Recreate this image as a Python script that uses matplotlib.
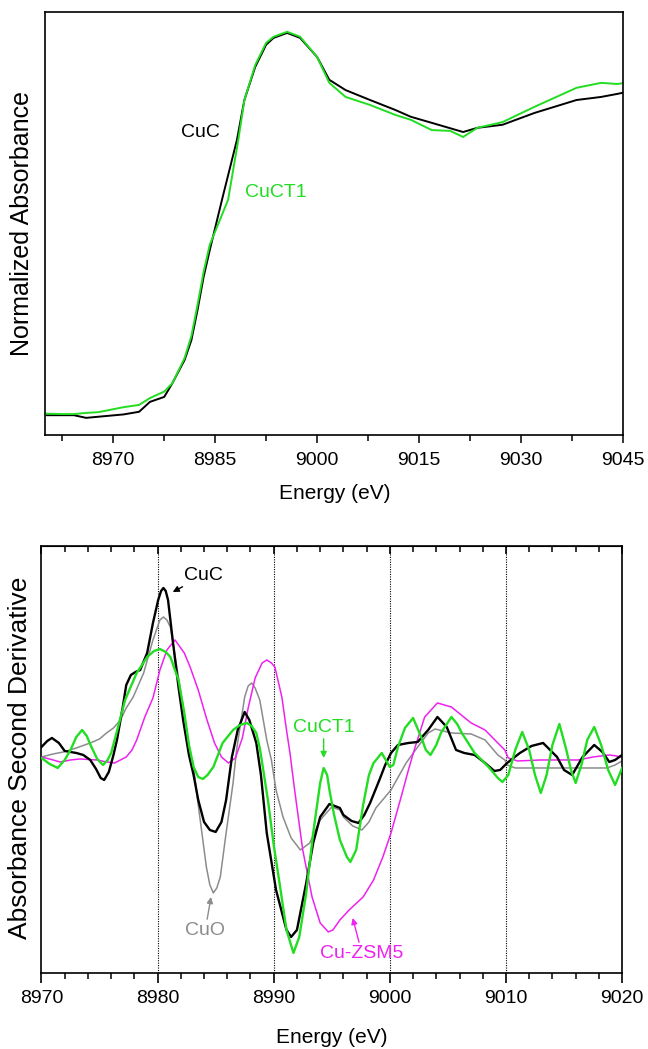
import numpy as np
import matplotlib
matplotlib.use("Agg")
from matplotlib import pyplot as plt
from matplotlib.ticker import MultipleLocator

plt.rcParams['font.family'] = ['Liberation Sans', 'DejaVu Sans']

GREEN = '#22dd22'
MAGENTA = '#ee22ee'
GRAY = '#8c8c8c'

# ---- top panel: normalized XANES ----
xanes_e_cuc = [8960.2, 8962.5, 8964.2, 8966.0, 8967.8, 8971.5, 8973.8, 8975.4, 8977.5, 8978.7,
               8980.5, 8981.5, 8982.4, 8983.3, 8984.2, 8986.0, 8988.2, 8989.3, 8990.9, 8992.5,
               8993.6, 8995.6, 8997.5, 9000.0, 9001.8, 9004.2, 9007.8, 9011.5, 9013.8, 9016.9,
               9021.5, 9023.6, 9027.3, 9032.0, 9038.2, 9041.8, 9044.2, 9045.0]
xanes_cuc = [-0.003, -0.003, -0.003, -0.010, -0.007, -0.001, 0.006, 0.032, 0.045, 0.081,
             0.142, 0.194, 0.273, 0.360, 0.430, 0.562, 0.719, 0.824, 0.911, 0.969,
             0.987, 1.000, 0.987, 0.937, 0.877, 0.850, 0.824, 0.798, 0.780, 0.764,
             0.740, 0.751, 0.759, 0.790, 0.824, 0.832, 0.840, 0.843]

xanes_e_cuct1 = [8960.2, 8962.5, 8964.2, 8966.0, 8967.8, 8971.5, 8973.8, 8975.4, 8977.5, 8978.7,
                 8980.5, 8981.5, 8982.4, 8983.3, 8984.2, 8986.9, 8988.4, 8989.3, 8990.9, 8992.5,
                 8993.6, 8995.6, 8997.5, 9000.0, 9001.8, 9004.2, 9007.8, 9011.5, 9013.8, 9016.9,
                 9019.6, 9021.5, 9023.6, 9027.3, 9032.0, 9038.2, 9041.8, 9044.2, 9045.0]
xanes_cuct1 = [0.001, 0.000, 0.000, 0.003, 0.005, 0.018, 0.024, 0.042, 0.059, 0.081,
               0.147, 0.205, 0.286, 0.373, 0.444, 0.562, 0.719, 0.824, 0.916, 0.974,
               0.990, 1.003, 0.990, 0.937, 0.869, 0.832, 0.811, 0.785, 0.772, 0.745,
               0.743, 0.727, 0.751, 0.766, 0.806, 0.856, 0.869, 0.866, 0.868]

# ---- bottom panel: second derivative ----
d2_e_cuc = [8970.0, 8970.5, 8970.9, 8971.5, 8972.0, 8972.5, 8973.0, 8973.6, 8974.2, 8974.7,
            8975.1, 8975.4, 8975.8, 8976.2, 8976.5, 8977.0, 8977.3, 8977.7, 8978.1, 8978.5,
            8979.1, 8979.6, 8980.05, 8980.3, 8980.5, 8980.7, 8980.9, 8981.3, 8981.8, 8982.2,
            8982.7, 8983.1, 8983.5, 8984.0, 8984.5, 8985.0, 8985.5, 8985.9, 8986.4, 8986.9,
            8987.5, 8987.9, 8988.5, 8988.9, 8989.4, 8990.2, 8991.1, 8991.5, 8992.0, 8992.8,
            8993.4, 8994.0, 8994.8, 8995.7, 8996.0, 8996.7, 8997.3, 8997.8, 8998.3, 8999.1,
            8999.6, 9000.1, 9000.7, 9001.6, 9002.4, 9003.3, 9004.1, 9004.9, 9005.7, 9006.4,
            9007.3, 9008.2, 9009.0, 9009.5, 9010.1, 9011.2, 9012.2, 9013.2, 9014.4, 9015.0,
            9015.7, 9016.6, 9017.6, 9018.3, 9018.9, 9019.4, 9020.0]
d2_cuc = [0.13, 0.19, 0.22, 0.17, 0.09, 0.08, 0.07, 0.05, 0.00, -0.09,
          -0.18, -0.20, -0.12, 0.05, 0.20, 0.53, 0.75, 0.85, 0.88, 0.90,
          1.07, 1.37, 1.60, 1.69, 1.72, 1.69, 1.60, 1.20, 0.73, 0.40,
          0.05, -0.15, -0.40, -0.62, -0.70, -0.72, -0.62, -0.40, 0.03, 0.30,
          0.48, 0.40, 0.17, -0.15, -0.73, -1.30, -1.70, -1.77, -1.70, -1.23,
          -0.83, -0.57, -0.44, -0.48, -0.55, -0.61, -0.63, -0.55, -0.43, -0.20,
          -0.05, 0.07, 0.15, 0.17, 0.18, 0.30, 0.43, 0.33, 0.10, 0.07,
          0.05, -0.03, -0.11, -0.10, -0.03, 0.07, 0.14, 0.17, 0.03, -0.10,
          -0.15, 0.03, 0.15, 0.08, -0.02, 0.00, 0.05]

d2_e_cuo = [8970.0, 8971.0, 8971.9, 8973.0, 8974.2, 8975.0, 8975.6, 8976.2, 8976.8, 8977.3,
            8977.9, 8978.8, 8979.6, 8980.2, 8980.5, 8980.8, 8981.1, 8981.6, 8982.2, 8982.7,
            8983.1, 8983.5, 8984.2, 8984.5, 8984.8, 8985.1, 8985.4, 8985.9, 8986.5, 8986.8,
            8987.1, 8987.5, 8987.8, 8988.1, 8988.4, 8988.8, 8989.4, 8989.8, 8990.2, 8990.8,
            8991.5, 8992.3, 8993.1, 8994.0, 8995.0, 8995.7, 8996.0, 8996.8, 8997.6, 8998.2,
            8998.8, 9000.1, 9001.4, 9002.4, 9003.3, 9003.9, 9005.3, 9007.0, 9008.2, 9009.3,
            9009.9, 9010.1, 9010.8, 9014.0, 9018.7, 9019.4, 9020.0]
d2_cuo = [0.03, 0.06, 0.08, 0.12, 0.17, 0.21, 0.27, 0.32, 0.40, 0.52,
          0.63, 0.87, 1.20, 1.40, 1.43, 1.40, 1.33, 0.97, 0.53, 0.15,
          -0.07, -0.45, -1.07, -1.25, -1.33, -1.28, -1.17, -0.73, -0.23, 0.10,
          0.33, 0.63, 0.74, 0.77, 0.72, 0.60, 0.20, 0.00, -0.30, -0.57,
          -0.78, -0.90, -0.83, -0.60, -0.47, -0.50, -0.57, -0.66, -0.70, -0.62,
          -0.48, -0.30, -0.03, 0.13, 0.27, 0.31, 0.27, 0.26, 0.20, 0.05,
          0.00, -0.05, -0.08, -0.08, -0.08, -0.05, -0.01]

d2_e_zsm5 = [8970.0, 8971.0, 8971.6, 8972.5, 8973.3, 8974.8, 8975.6, 8976.3, 8977.3, 8977.8,
             8978.2, 8978.9, 8979.6, 8980.2, 8980.8, 8981.5, 8982.3, 8982.8, 8983.5, 8984.2,
             8984.9, 8985.5, 8986.1, 8986.7, 8987.3, 8987.8, 8988.4, 8989.0, 8989.4, 8989.8,
             8990.1, 8990.7, 8991.1, 8991.4, 8991.8, 8992.5, 8993.3, 8994.0, 8994.7, 8995.1,
             8995.7, 8996.5, 8997.7, 8998.6, 8999.4, 9000.1, 9000.9, 9001.6, 9002.1, 9003.0,
             9004.1, 9005.3, 9007.0, 9008.2, 9009.3, 9009.9, 9010.2, 9011.0, 9013.0, 9016.2,
             9017.5, 9018.9, 9019.5, 9020.0]
d2_zsm5 = [0.03, 0.00, -0.02, 0.00, 0.01, 0.00, -0.02, -0.03, 0.03, 0.10,
           0.20, 0.43, 0.62, 0.90, 1.10, 1.20, 1.07, 0.93, 0.70, 0.42,
           0.17, 0.03, -0.03, 0.02, 0.22, 0.52, 0.82, 0.97, 1.00, 0.97,
           0.93, 0.63, 0.30, 0.07, -0.30, -0.90, -1.37, -1.63, -1.72, -1.70,
           -1.60, -1.50, -1.37, -1.20, -0.97, -0.73, -0.40, -0.10, 0.10, 0.43,
           0.57, 0.53, 0.37, 0.30, 0.17, 0.10, 0.02, -0.01, 0.00, 0.00,
           0.03, 0.05, 0.04, 0.03]

d2_e_cuct1 = [8970.0, 8970.7, 8971.4, 8972.0, 8972.5, 8973.0, 8973.5, 8973.9, 8974.3, 8974.8,
              8975.3, 8975.7, 8976.0, 8976.6, 8977.2, 8978.2, 8979.1, 8979.7, 8980.2, 8980.7,
              8981.1, 8981.8, 8982.3, 8982.7, 8983.1, 8983.5, 8983.9, 8984.3, 8984.8, 8985.6,
              8986.5, 8987.1, 8987.7, 8988.1, 8988.5, 8988.8, 8989.1, 8989.5, 8990.0, 8990.5,
              8991.1, 8991.7, 8992.2, 8992.8, 8993.4, 8994.0, 8994.3, 8994.6, 8994.8, 8995.2,
              8995.7, 8996.3, 8996.6, 8997.1, 8997.7, 8998.2, 8998.6, 8999.3, 9000.0, 9000.3,
              9000.7, 9001.3, 9002.0, 9002.7, 9003.1, 9003.5, 9004.0, 9004.4, 9005.3, 9005.8,
              9006.2, 9007.3, 9008.5, 9009.3, 9009.7, 9010.2, 9010.8, 9011.4, 9012.0, 9012.5,
              9013.0, 9013.5, 9014.0, 9014.6, 9015.2, 9015.6, 9016.0, 9016.5, 9017.0, 9017.6,
              9018.2, 9018.8, 9019.4, 9020.0]
d2_cuct1 = [0.02, -0.04, -0.08, 0.00, 0.10, 0.23, 0.30, 0.24, 0.13, 0.01,
            -0.05, 0.00, 0.07, 0.33, 0.60, 0.87, 1.03, 1.09, 1.11, 1.08,
            1.03, 0.80, 0.47, 0.15, -0.07, -0.17, -0.19, -0.15, -0.07, 0.17,
            0.30, 0.35, 0.37, 0.34, 0.27, 0.12, -0.10, -0.40, -0.85, -1.23,
            -1.70, -1.93, -1.77, -1.33, -0.73, -0.23, -0.08, -0.15, -0.30, -0.55,
            -0.80, -0.97, -1.02, -0.90, -0.45, -0.15, -0.03, 0.07, -0.07, -0.05,
            0.13, 0.32, 0.42, 0.23, 0.10, 0.05, 0.15, 0.27, 0.43, 0.36,
            0.27, 0.07, -0.07, -0.18, -0.22, -0.15, 0.10, 0.28, 0.10, -0.15,
            -0.33, -0.15, 0.15, 0.36, 0.10, -0.10, -0.23, -0.05, 0.20, 0.33,
            0.15, -0.10, -0.25, -0.08]

top_ticks = [8970, 8985, 9000, 9015, 9030, 9045]
bottom_ticks = [8970, 8980, 8990, 9000, 9010, 9020]
grid_lines = [8980, 8990, 9000, 9010]

fig = plt.figure(figsize=(6.48, 10.49), dpi=100)

# top panel
ax1 = fig.add_axes([0.070, 0.5853, 0.891, 0.4033])
ax1.plot(xanes_e_cuc, xanes_cuc, color='black', lw=1.4)
ax1.plot(xanes_e_cuct1, xanes_cuct1, color=GREEN, lw=1.4)
ax1.set_xlim(8960, 9045)
ax1.set_ylim(-0.055, 1.055)
ax1.set_xticks(top_ticks)
ax1.xaxis.set_minor_locator(MultipleLocator(7.5))
ax1.set_yticks([])
ax1.tick_params(axis='x', which='major', direction='out', length=6, width=1.1, labelsize=14, pad=6)
ax1.tick_params(axis='x', which='minor', direction='out', length=4.5, width=1.1)
for s in ax1.spines.values():
    s.set_linewidth(1.2)
ax1.text(8982.8, 0.74, 'CuC', color='black', fontsize=14, ha='center', va='center')
ax1.text(8994.0, 0.58, 'CuCT1', color=GREEN, fontsize=14, ha='center', va='center')
fig.text(0.516, 0.530, 'Energy (eV)', fontsize=15, ha='center', va='center')
fig.text(0.034, 0.787, 'Normalized Absorbance', fontsize=18, rotation=90, ha='center', va='center')

# bottom panel
ax2 = fig.add_axes([0.064, 0.0725, 0.896, 0.407])
for g in grid_lines:
    ax2.axvline(g, color='black', ls=(0, (1, 1.2)), lw=0.8, zorder=1)
ax2.plot(d2_e_cuo, d2_cuo, color=GRAY, lw=1.1, zorder=2)
ax2.plot(d2_e_zsm5, d2_zsm5, color=MAGENTA, lw=1.1, zorder=2)
ax2.plot(d2_e_cuc, d2_cuc, color='black', lw=1.7, zorder=3)
ax2.plot(d2_e_cuct1, d2_cuct1, color=GREEN, lw=1.7, zorder=3)
ax2.set_xlim(8970, 9020)
ax2.set_ylim(-2.13, 2.14)
ax2.set_xticks(bottom_ticks)
ax2.xaxis.set_minor_locator(MultipleLocator(2))
ax2.set_yticks([])
ax2.tick_params(axis='x', which='major', direction='out', length=7, width=1.2, labelsize=14, pad=5)
ax2.tick_params(axis='x', which='minor', direction='out', length=4.5, width=1.1)
for s in ax2.spines.values():
    s.set_linewidth(1.2)

sec = ax2.secondary_xaxis('top')
sec.set_xticks(bottom_ticks)
sec.xaxis.set_minor_locator(MultipleLocator(2))
sec.tick_params(axis='x', which='major', direction='in', length=6, width=1.2, labeltop=False)
sec.tick_params(axis='x', which='minor', direction='in', length=4.5, width=1.1)
sec.set_xticklabels([])

arrow = dict(arrowstyle='-|>', lw=1.0, mutation_scale=9, shrinkA=0, shrinkB=0)
ax2.annotate('CuC', xy=(8981.3, 1.68), xytext=(8982.3, 1.76), color='black', fontsize=14,
             ha='left', va='bottom', arrowprops=dict(arrow, color='black'))
ax2.annotate('CuCT1', xy=(8994.3, 0.02), xytext=(8994.3, 0.24), color=GREEN, fontsize=14,
             ha='center', va='bottom', arrowprops=dict(arrow, color=GREEN))
ax2.annotate('CuO', xy=(8984.6, -1.37), xytext=(8984.1, -1.62), color=GRAY, fontsize=14,
             ha='center', va='top', arrowprops=dict(arrow, color=GRAY))
ax2.annotate('Cu-ZSM5', xy=(8996.8, -1.58), xytext=(8997.6, -1.85), color=MAGENTA, fontsize=14,
             ha='center', va='top', arrowprops=dict(arrow, color=MAGENTA))
fig.text(0.512, 0.0105, 'Energy (eV)', fontsize=15, ha='center', va='center')
fig.text(0.031, 0.278, 'Absorbance Second Derivative', fontsize=19, rotation=90, ha='center', va='center')

fig.savefig('out.png', dpi=100)
